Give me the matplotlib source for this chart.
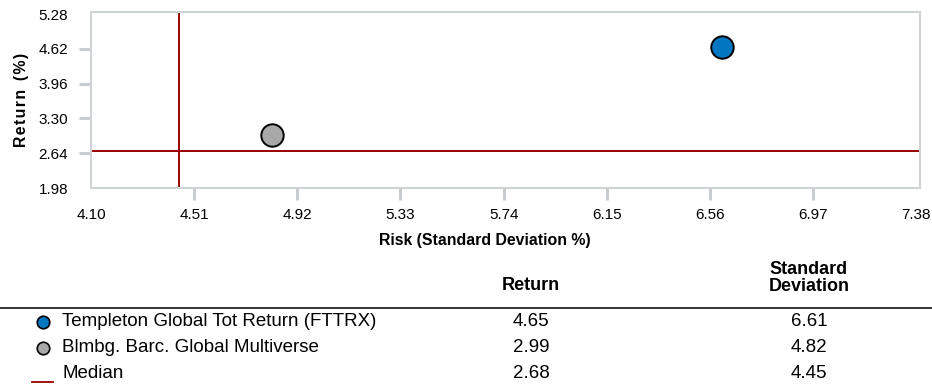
import matplotlib.pyplot as plt
from matplotlib.lines import Line2D

plt.rcParams['font.family'] = ['Liberation Sans', 'DejaVu Sans']

names = ["Templeton Global Tot Return (FTTRX)", "Blmbg. Barc. Global Multiverse"]
returns = [4.65, 2.99]
std_devs = [6.61, 4.82]
colors = ["#0077c0", "#a8a8a8"]
median_return = 2.68
median_std = 4.45

x_ticks = [4.10, 4.51, 4.92, 5.33, 5.74, 6.15, 6.56, 6.97, 7.38]
y_ticks = [1.98, 2.64, 3.30, 3.96, 4.62, 5.28]

dark_red = "#990000"
tick_grey = "#c9cdd1"

fig = plt.figure(figsize=(9.32, 3.88), dpi=100)
ax = fig.add_axes([91 / 932, 1 - 188 / 388, 829 / 932, 176 / 388])

ax.axhline(median_return, color=dark_red, lw=1.4, zorder=1)
ax.axvline(median_std, color=dark_red, lw=1.4, zorder=1)
for sd, r, c in zip(std_devs, returns, colors):
    ax.scatter(sd, r, s=260, color=c, edgecolor="black", linewidth=1.4, zorder=3)

ax.set_xlim(4.10, 7.395)
ax.set_ylim(1.98, 5.32)
ax.set_xticks(x_ticks)
ax.set_xticklabels([f"{v:.2f}" for v in x_ticks], fontsize=11)
ax.set_yticks(y_ticks)
ax.set_yticklabels([f"{v:.2f}" for v in y_ticks], fontsize=11)
ax.tick_params(axis="both", length=8.5, width=2.2, color=tick_grey)
ax.tick_params(axis="x", pad=6)
ax.tick_params(axis="y", pad=8)
# end ticks are not drawn in the reference
for axis in (ax.xaxis, ax.yaxis):
    ticks = axis.get_major_ticks()
    for t in (ticks[0], ticks[-1]):
        t.tick1line.set_visible(False)
for sp in ax.spines.values():
    sp.set_color("#d0d3d6")
    sp.set_linewidth(1.5)

# letter-spaced axis title, as in the reference
hair = "\u200a"
ax.set_ylabel(hair.join("Return") + "  " + hair.join("(%)"), fontsize=11.4,
              fontweight="bold", labelpad=7)


def fy(py):
    return 1 - py / 388


fig.text(485 / 932, fy(241), "Risk (Standard Deviation %)", ha="center", va="center",
         fontsize=11.4, fontweight="bold")

# table below the chart
fig.text(531 / 932, fy(286), "Return", ha="center", va="center", fontsize=13, fontweight="bold")
fig.text(809 / 932, fy(278), "Standard\nDeviation", ha="center", va="center",
         fontsize=13, fontweight="bold", linespacing=1.05)
fig.add_artist(Line2D([0, 1], [fy(308), fy(308)], color="#222222", lw=1.3))

row_y = [322, 348, 374]
for i, (n, r, sd, c) in enumerate(zip(names, returns, std_devs, colors)):
    y = fy(row_y[i])
    fig.add_artist(Line2D([43 / 932], [y], marker="o", markersize=9, color=c,
                          markeredgecolor="black", markeredgewidth=1.2))
    fig.text(62 / 932, y, n, ha="left", va="center", fontsize=13.5)
    fig.text(531 / 932, y, f"{r:.2f}", ha="center", va="center", fontsize=13.5)
    fig.text(809 / 932, y, f"{sd:.2f}", ha="center", va="center", fontsize=13.5)

y = fy(row_y[2])
fig.add_artist(Line2D([32 / 932, 53 / 932], [fy(382), fy(382)], color=dark_red, lw=1.3))
fig.text(62 / 932, y, "Median", ha="left", va="center", fontsize=13.5)
fig.text(531 / 932, y, f"{median_return:.2f}", ha="center", va="center", fontsize=13.5)
fig.text(809 / 932, y, f"{median_std:.2f}", ha="center", va="center", fontsize=13.5)

fig.savefig("out.png", dpi=100)
